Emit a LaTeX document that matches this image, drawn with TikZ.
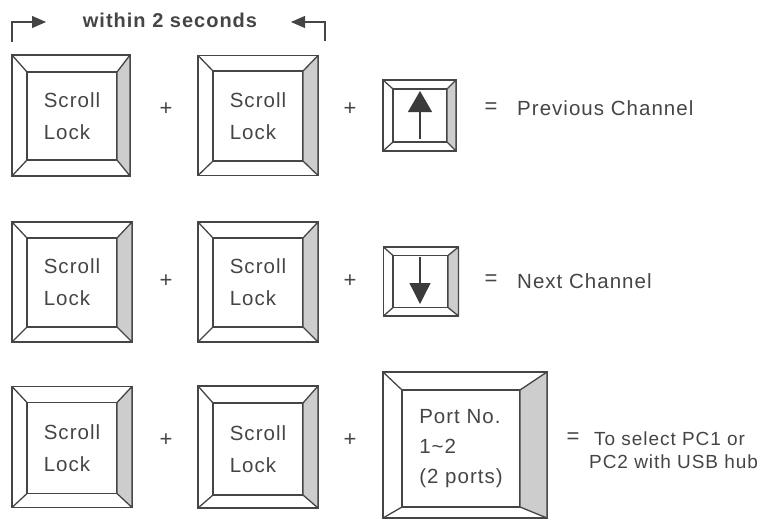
\documentclass[tikz,border=0pt]{standalone}
\usepackage{fontspec}
\setmainfont{Liberation Sans}[LetterSpace=5]
\usetikzlibrary{arrows.meta,positioning}
\definecolor{inkgray}{HTML}{454545}
\definecolor{bevelgray}{HTML}{CDCDCD}
\tikzset{keyout/.style={draw=inkgray,line width=1.3pt,rectangle,inner sep=0pt,outer sep=0pt}}
\tikzset{keyin/.style={keyout,align=left,text=inkgray,font=\fontsize{20.5}{32}\selectfont}}
\tikzset{bevel/.style={draw=inkgray,fill=bevelgray,line width=1.3pt,line join=round}}
\tikzset{plus/.style={text=inkgray,inner sep=0pt,font=\fontsize{22}{22}\selectfont}}
\tikzset{desc/.style={anchor=base west,text=inkgray,inner sep=0pt,font=\fontsize{20.5}{24}\selectfont}}
\tikzset{bracket/.style={draw=inkgray,line width=1.1pt,-{Triangle[length=14pt,width=12pt]}}}
\tikzset{keyarrow/.style={draw=inkgray!85!black,line width=1.3pt,-{Triangle[length=21pt,width=24pt]}}}

\begin{document}
\begin{tikzpicture}[x=1pt,y=-1pt]
    \useasboundingbox (0,0) rectangle (767,520);

    % the time limit
    \node[anchor=base,text=inkgray,inner sep=0pt,font=\fontsize{20}{24}\selectfont\bfseries] (within) at (170,27) {within 2 seconds};
    \coordinate (lfoot) at (12,42);
    \coordinate (ltip) at (46,22);
    \coordinate (rfoot) at (325,41);
    \coordinate (rtip) at (291,22);
    \draw[bracket] (lfoot) |- (ltip);
    \draw[bracket] (rfoot) |- (rtip);

    % row 1
    \node[keyout,minimum width=118pt,minimum height=121pt] (k11) at (71,115.5) {};
    \node[keyin,minimum width=90pt,minimum height=88pt] (k11i) at (72,116) {Scroll\\Lock};
    \node[keyout,minimum width=120pt,minimum height=120pt] (k12) at (258,115.5) {};
    \node[keyin,minimum width=90pt,minimum height=90pt] (k12i) at (258,116) {Scroll\\Lock};
    \node[keyout,minimum width=73pt,minimum height=71pt] (up) at (419.5,115.5) {};
    \node[keyout,minimum width=54pt,minimum height=53pt] (upi) at (420,115.5) {};

    % row 2
    \node[keyout,minimum width=120pt,minimum height=120pt] (k21) at (72,282) {};
    \node[keyin,minimum width=90pt,minimum height=89pt] (k21i) at (72,282.5) {Scroll\\Lock};
    \node[keyout,minimum width=120pt,minimum height=120pt] (k22) at (258,282) {};
    \node[keyin,minimum width=90pt,minimum height=89pt] (k22i) at (258,282.5) {Scroll\\Lock};
    \node[keyout,minimum width=75pt,minimum height=69pt] (down) at (421,281.5) {};
    \node[keyout,minimum width=55pt,minimum height=52pt] (downi) at (420.5,281.5) {};

    % row 3
    \node[keyout,minimum width=120pt,minimum height=121pt] (k31) at (72,447) {};
    \node[keyin,minimum width=90pt,minimum height=91pt] (k31i) at (72,448) {Scroll\\Lock};
    \node[keyout,minimum width=120pt,minimum height=122pt] (k32) at (258,447) {};
    \node[keyin,minimum width=90pt,minimum height=92pt] (k32i) at (258,449) {Scroll\\Lock};
    \node[keyout,minimum width=164pt,minimum height=146pt] (port) at (465,445) {};
    \node[keyin,minimum width=118pt,minimum height=117pt,font=\fontsize{20.5}{30}\selectfont] (porti) at (461,448.5) {Port No.\\1\char`~2\\(2 ports)};

    % bevels of the keys
    \foreach \k in {k11,k12,up,k21,k22,down,k31,k32,port}{
        \filldraw[bevel] (\k.north east) -- (\k i.north east) -- (\k i.south east) -- (\k.south east) -- cycle;
        \draw[bevel] (\k.north west) -- (\k i.north west);
        \draw[bevel] (\k.south west) -- (\k i.south west);
    }

    % arrows on the keys
    \draw[keyarrow] (420,139) -- (420,91);
    \draw[keyarrow,-{Triangle[length=21pt,width=21pt]}] (420,257) -- (420,304);

    % plus signs
    \node[plus] (p11) at (166,109) {+};
    \node[plus] (p12) at (350,109) {+};
    \node[plus] (p21) at (166,281) {+};
    \node[plus] (p22) at (350,281) {+};
    \node[plus] (p31) at (166,440) {+};
    \node[plus] (p32) at (350,440) {+};

    % meanings
    \node[plus] (eq1) at (491,108) {=};
    \node[desc] (prev) at (517,115) {Previous Channel};
    \node[plus] (eq2) at (491,280) {=};
    \node[desc] (next) at (517,288) {Next Channel};
    \node[plus] (eq3) at (573,438) {=};
    \node[desc,font=\fontsize{19}{23}\selectfont] (sel1) at (594,445) {To select PC1 or};
    \node[desc,font=\fontsize{19}{23}\selectfont] (sel2) at (589,468) {PC2 with USB hub};
\end{tikzpicture}
\end{document}
